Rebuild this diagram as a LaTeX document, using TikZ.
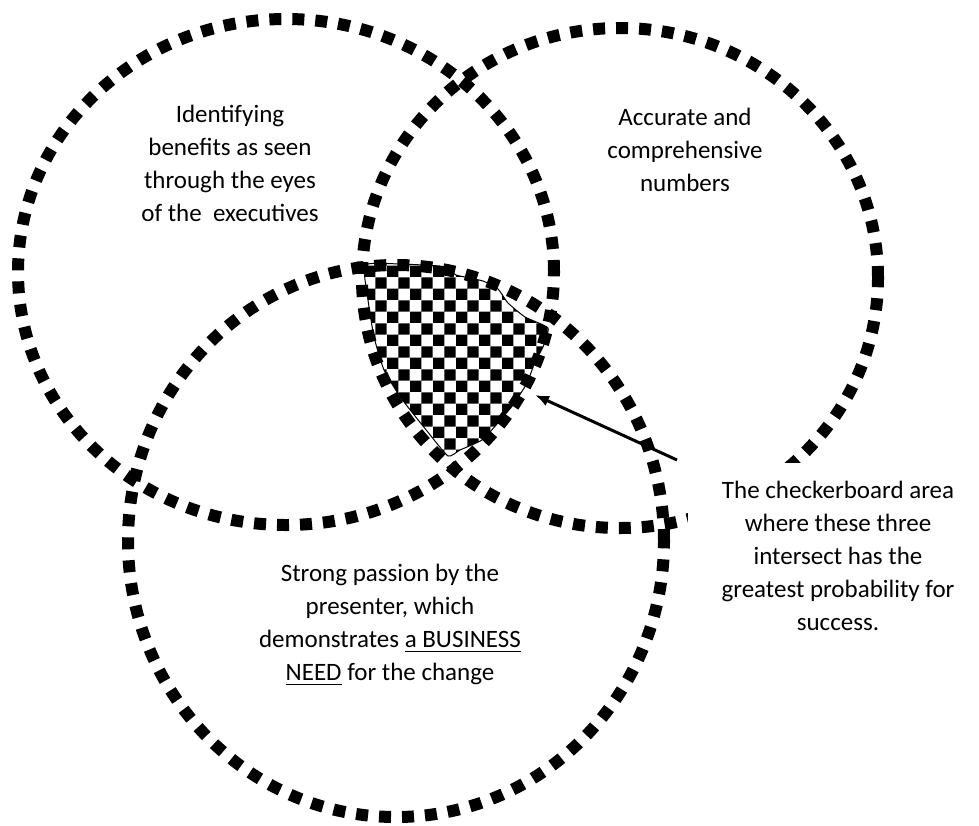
\documentclass[tikz,border=0pt]{standalone}
\usepackage{fontspec}
\setmainfont{Carlito}
\usetikzlibrary{patterns,arrows.meta}
\newcommand{\bizul}[1]{\setbox0\hbox{#1}\rlap{\rule[-2.2pt]{\wd0}{0.9pt}}\box0\relax}
\tikzset{
  dotring/.style={line width=6pt, dash pattern=on 6pt off 5.5pt},
  ringtext/.style={align=center, inner sep=0pt, font=\fontsize{12.5}{16.5}\selectfont},
  notebox/.style={fill=white, minimum width=150pt, align=center, inner xsep=0pt, inner ysep=9pt, font=\fontsize{12.5}{16.5}\selectfont},
  pointer/.style={line width=1.5pt, -{Latex[length=7pt,width=5.5pt]}}
}
\begin{document}
\begin{tikzpicture}[x=0.5pt,y=-0.5pt]
  \useasboundingbox (0,0) rectangle (979,825);
  % checkerboard area where the three rings meet
  \path[pattern=checkerboard] plot[smooth cycle, tension=0.3] coordinates {
    (365,265) (400,264) (440,266) (450,269) (456,275) (483,281) (498,289)
    (508,303) (525,317) (548,328) (543,347) (535,362) (527,383) (513,405)
    (497,424) (482,440) (460,450) (448,456) (427,431) (401,398) (384,370)
    (374,337) (368,300)};
  \draw[line width=0.5pt] plot[smooth cycle, tension=0.3] coordinates {
    (365,265) (400,264) (440,266) (450,269) (456,275) (483,281) (498,289)
    (508,303) (525,317) (548,328) (543,347) (535,362) (527,383) (513,405)
    (497,424) (482,440) (460,450) (448,456) (427,431) (401,398) (384,370)
    (374,337) (368,300)};
  % the three rings
  \draw[dotring] (286,272) ellipse [x radius=134pt, y radius=126.5pt];
  \draw[dotring] (620,278) ellipse [x radius=129pt, y radius=125pt];
  \draw[dotring] (396,541) ellipse [x radius=134pt, y radius=138pt];
  % texts in the rings
  \node[ringtext] (benefits) at (230,163) {Identifying\\benefits as seen\\through the eyes\\of the~~executives};
  \node[ringtext] (numbers) at (685,150) {Accurate and\\comprehensive\\numbers};
  \node[ringtext] (passion) at (390,625) {Strong passion by the\\presenter, which\\demonstrates \bizul{a BUSINESS}\\\bizul{NEED} for the change};
  % note and pointer
  \node[notebox, anchor=north] (note) at (838,463) {The checkerboard area\\where these three\\intersect has the\\greatest probability for\\success.};
  \coordinate (tail) at (677,460);
  \coordinate (tip) at (535,395);
  \draw[pointer] (tail) -- (tip);
\end{tikzpicture}
\end{document}
